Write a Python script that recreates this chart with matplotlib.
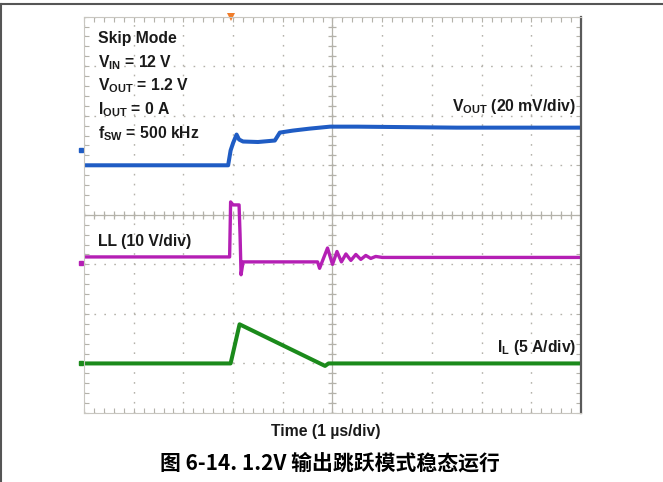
import matplotlib.pyplot as plt
import numpy as np
from matplotlib.ticker import MultipleLocator

plt.rcParams['font.family'] = ['Liberation Sans', 'DejaVu Sans']
plt.rcParams['mathtext.fontset'] = 'custom'
plt.rcParams['mathtext.rm'] = 'Liberation Sans:bold'
plt.rcParams['mathtext.it'] = 'Liberation Sans:bold'
plt.rcParams['mathtext.bf'] = 'Liberation Sans:bold'

# scope traces: time and level in screen divisions, (0, 0) is the screen centre
vout_t = [-5.0, -2.10, -2.05, -2.00, -1.93, -1.88, -1.80, -1.50, -1.16, -1.06,
          -0.80, -0.46, -0.05, 0.5, 1.5, 2.5, 3.5, 5.0]
vout_v = [1.00, 1.00, 1.30, 1.45, 1.62, 1.52, 1.48, 1.47, 1.50, 1.66,
          1.70, 1.74, 1.78, 1.78, 1.77, 1.76, 1.76, 1.76]

ll_t = [-5.0, -2.07, -2.05, -2.00, -1.88, -1.86, -1.84, -1.80, -0.30, -0.26,
        -0.10, 0.00, 0.09, 0.18, 0.27, 0.37, 0.47, 0.57, 0.67, 0.77, 0.87, 1.0, 5.0]
ll_v = [-0.85, -0.85, 0.26, 0.20, 0.20, -0.40, -1.21, -0.95, -0.95, -1.08,
        -0.67, -1.00, -0.74, -0.95, -0.79, -0.92, -0.80, -0.90, -0.82, -0.88, -0.84, -0.86, -0.86]

il_t = [-5.0, -2.05, -1.87, -0.15, -0.08, 5.0]
il_v = [-3.00, -3.00, -2.21, -3.05, -3.00, -3.00]

# channel reference markers on the screen edges
marker_x = [-5.07, -5.07, -5.07]
marker_y = [1.31, -0.97, -3.0]
trigger_t = -2.05

blue = '#1f5cc4'
magenta = '#b41fb4'
green = '#1b8a1b'
grat = '#b4b2aa'

notes = ['Skip Mode', r'V$_{\mathrm{IN}}$ = 12 V', r'V$_{\mathrm{OUT}}$ = 1.2 V',
         r'I$_{\mathrm{OUT}}$ = 0 A', r'f$_{\mathrm{SW}}$ = 500 kHz']
notes_y = [3.47, 2.98, 2.51, 2.02, 1.55]

fig = plt.figure(figsize=(6.63, 4.82), dpi=100)
ax = fig.add_axes([0.1267, 0.1432, 0.7496, 0.8222])
ax.set_xlim(-5, 5)
ax.set_ylim(-4, 4)

# graticule
ax.xaxis.set_major_locator(MultipleLocator(1))
ax.yaxis.set_major_locator(MultipleLocator(1))
ax.xaxis.set_minor_locator(MultipleLocator(0.2))
ax.yaxis.set_minor_locator(MultipleLocator(0.2))
ax.tick_params(which='both', direction='in', length=3.5, width=0.8, color=grat,
               top=True, right=True, labelbottom=False, labelleft=False)
ax.grid(which='major', color=grat, linestyle=(0, (1.2, 5.94)), linewidth=1.0)
for side in ['left', 'top', 'bottom']:
    ax.spines[side].set_color('#c8c6c0')
    ax.spines[side].set_linewidth(0.8)
ax.spines['right'].set_color('#5a5a5a')
ax.spines['right'].set_linewidth(1.6)

ax.axhline(0, color=grat, lw=0.9)
ax.axvline(0, color=grat, lw=0.9)
minor = np.arange(-5, 5.01, 0.2)
ax.plot(minor, np.zeros_like(minor), '|', ms=6, mew=0.9, color=grat)
ax.plot(np.zeros_like(minor[5:-5]), minor[5:-5], '_', ms=6, mew=0.9, color=grat)

# traces
ax.plot(vout_t, vout_v, color=blue, lw=2.9, solid_joinstyle='round')
ax.plot(ll_t, ll_v, color=magenta, lw=2.4, solid_joinstyle='round')
ax.plot(il_t, il_v, color=green, lw=2.9, solid_joinstyle='round')

for mx, my, c in zip(marker_x, marker_y, [blue, magenta, green]):
    ax.plot(mx, my, marker='s', ms=2.5, color=c, clip_on=False)
ax.plot(trigger_t, 4.0, marker='v', ms=6, color='#f07c2a', clip_on=False, mew=0)

# annotations
for s, y in zip(notes, notes_y):
    ax.text(-4.72, y, s, fontsize=11.3, fontweight='bold', color='#1a1a1a', va='baseline')
ax.text(4.90, 2.09, r'V$_{\mathrm{OUT}}$ (20 mV/div)', fontsize=11.3, fontweight='bold',
        color='#1a1a1a', ha='right', va='baseline')
ax.text(-4.72, -0.62, 'LL (10 V/div)', fontsize=11.3, fontweight='bold',
        color='#1a1a1a', va='baseline')
ax.text(4.90, -2.76, r'I$_{\mathrm{L}}$ (5 A/div)', fontsize=11.3, fontweight='bold',
        color='#1a1a1a', ha='right', va='baseline')

fig.text(326 / 663, 1 - 436 / 482, 'Time (1 µs/div)', fontsize=11.3, fontweight='bold',
         color='#1a1a1a', ha='center', va='baseline')
fig.text(0.498, 1 - 463 / 482, '图 6-14. 1.2V 输出跳跃模式稳态运行', fontsize=15,
         fontweight='bold', family=['Noto Sans CJK SC', 'DejaVu Sans'],
         color='black', ha='center', va='center')

# page frame
fig.add_artist(plt.Line2D([0, 1], [1 - 4 / 482] * 2, color='#555555', lw=1.5))
fig.add_artist(plt.Line2D([0.0008, 0.0008], [0, 1 - 4 / 482], color='#555555', lw=1.5))

fig.savefig('out.png', dpi=100)
